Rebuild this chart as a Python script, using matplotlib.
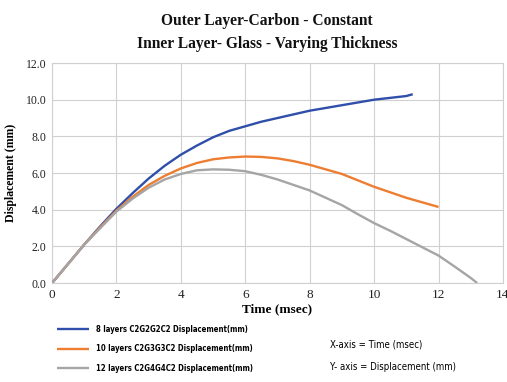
import matplotlib
matplotlib.use("Agg")
import matplotlib.pyplot as plt

# values
t_8 = [0, 0.5, 1, 1.5, 2, 2.5, 3, 3.5, 4, 4.5, 5, 5.5, 6, 6.5, 7, 7.5, 8, 8.5, 9, 9.5, 10, 10.5, 11, 11.2]
d_8 = [0, 1.05, 2.1, 3.1, 4.05, 4.9, 5.7, 6.4, 7.0, 7.5, 7.95, 8.3, 8.55, 8.8, 9.0, 9.2, 9.4, 9.55, 9.7, 9.85, 10.0, 10.1, 10.2, 10.3]

t_10 = [0, 0.5, 1, 1.5, 2, 2.5, 3, 3.5, 4, 4.5, 5, 5.5, 6, 6.5, 7, 7.5, 8, 8.5, 9, 9.5, 10, 10.5, 11, 11.5, 12]
d_10 = [0, 1.05, 2.1, 3.05, 3.95, 4.7, 5.35, 5.85, 6.25, 6.55, 6.75, 6.85, 6.9, 6.88, 6.8, 6.65, 6.45, 6.2, 5.95, 5.6, 5.25, 4.95, 4.65, 4.4, 4.15]

t_12 = [0, 0.5, 1, 1.5, 2, 2.5, 3, 3.5, 4, 4.5, 5, 5.5, 6, 6.5, 7, 7.5, 8, 8.5, 9, 9.5, 10, 10.5, 11, 11.5, 12, 12.5, 13, 13.2]
d_12 = [0, 1.05, 2.1, 3.0, 3.9, 4.6, 5.2, 5.65, 5.95, 6.15, 6.2, 6.18, 6.1, 5.9, 5.65, 5.35, 5.05, 4.65, 4.25, 3.75, 3.27, 2.85, 2.4, 1.95, 1.5, 0.9, 0.28, 0]

labels = ["8 layers C2G2G2C2 Displacement(mm)",
          "10 layers C2G3G3C2 Displacement(mm)",
          "12 layers C2G4G4C2 Displacement(mm)"]
colors = ["#2f4faa", "#ed7d31", "#a5a5a5"]

x_ticks = [0, 2, 4, 6, 8, 10, 12, 14]
y_ticks = [0, 2, 4, 6, 8, 10, 12]

serif = ["Liberation Serif", "DejaVu Serif"]

fig = plt.figure(figsize=(5.07, 3.82), dpi=100)
ax = fig.add_axes([0.1026, 0.259, 0.8894, 0.576])

lines = []
for t, d, c in zip([t_8, t_10, t_12], [d_8, d_10, d_12], colors):
    ln, = ax.plot(t, d, color=c, linewidth=1.7, zorder=3,
                  solid_joinstyle="round", solid_capstyle="butt")
    lines.append(ln)

ax.set_xlim(0, 14)
ax.set_ylim(0, 12)
ax.set_xticks(x_ticks)
ax.set_yticks(y_ticks)
ax.set_xticklabels([str(v) for v in x_ticks], family=serif, fontsize=9.5)
ax.set_yticklabels(["%.1f" % v for v in y_ticks], family=serif, fontsize=8.5)
ax.tick_params(length=0, pad=4, colors="#222222")
ax.grid(True, color="#d0d0d0", linewidth=0.8)
ax.set_axisbelow(True)
for s in ax.spines.values():
    s.set_color("#d0d0d0")
    s.set_linewidth(0.8)

ax.set_xlabel("Time (msec)", family=serif, fontweight="bold", fontsize=9.5, labelpad=2)
ax.set_ylabel("Displacement (mm)", family=serif, fontweight="bold", fontsize=8.5, labelpad=6)

fig.text(0.527, 0.945, "Outer Layer-Carbon - Constant", family=serif, fontweight="bold",
         fontsize=11.2, ha="center", va="center", color="#111111")
fig.text(0.527, 0.885, "Inner Layer- Glass - Varying Thickness", family=serif, fontweight="bold",
         fontsize=11.2, ha="center", va="center", color="#111111")

fig.legend(lines, labels, loc="upper left", bbox_to_anchor=(0.098, 0.168), frameon=False,
           handlelength=4.1, handletextpad=0.9, labelspacing=1.35,
           prop={"family": "DejaVu Sans", "stretch": "condensed", "weight": "bold", "size": 5.6})

fig.text(0.651, 0.097, "X-axis = Time (msec)", family="DejaVu Sans", stretch="condensed",
         fontsize=6.9, va="center")
fig.text(0.651, 0.038, "Y- axis = Displacement (mm)", family="DejaVu Sans", stretch="condensed",
         fontsize=6.9, va="center")

fig.savefig("out.png", dpi=100)
